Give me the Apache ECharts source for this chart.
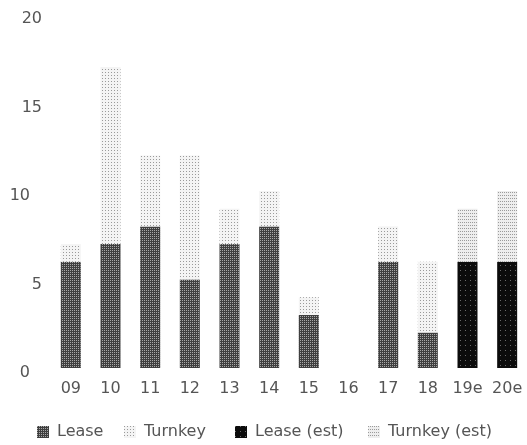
<!DOCTYPE html>
<html>
<head>
<meta charset="utf-8">
<script src="https://cdn.jsdelivr.net/npm/echarts@6/dist/echarts.min.js"></script>
<style>
  html, body { margin: 0; padding: 0; background: #fff; }
  #chart { width: 527px; height: 445px; }
</style>
</head>
<body>
<div id="chart"></div>
<script>
// Deliveries by year, split by contract type
const categories = ['09', '10', '11', '12', '13', '14', '15', '16', '17', '18', '19e', '20e'];
const lease      = [6, 7, 8, 5, 7, 8, 3, null, 6, 2, null, null];
const turnkey    = [1, 10, 4, 7, 2, 2, 1, null, 2, 4, null, null];
const leaseEst   = [null, null, null, null, null, null, null, null, null, null, 6, 6];
const turnkeyEst = [null, null, null, null, null, null, null, null, null, null, 3, 4];
const yTicks = [0, 5, 10, 15, 20];
const seriesNames = ['Lease', 'Turnkey', 'Lease (est)', 'Turnkey (est)'];

const FONT = '"DejaVu Sans", sans-serif';
const TEXT = '#555';

// halftone-like fills: base colour plus a fine dot decal
const fills = [
  { color: '#3f3f3f', decal: { symbol: 'rect', symbolSize: 1, color: '#a8a8a8', dashArrayX: [1, 1], dashArrayY: [1, 1], rotation: 0 } },
  { color: '#f4f4f4', decal: { symbol: 'rect', symbolSize: 1, color: '#9a9a9a', dashArrayX: [1, 2], dashArrayY: [1, 2], rotation: 0 } },
  { color: '#0c0c0c', decal: { symbol: 'rect', symbolSize: 1, color: '#6a6a6a', dashArrayX: [1, 4], dashArrayY: [1, 4], rotation: 0 } },
  { color: '#eeeeee', decal: { symbol: 'rect', symbolSize: 1, color: '#9a9a9a', dashArrayX: [1, 1], dashArrayY: [1, 2], rotation: 0 } }
];

const chart = echarts.init(document.getElementById('chart'), null, { renderer: 'canvas' });

function barSeries(name, data, fill) {
  return {
    name: name,
    type: 'bar',
    stack: 'total',
    data: data,
    barWidth: 20,
    itemStyle: { color: fill.color, decal: fill.decal },
    emphasis: { disabled: true }
  };
}

// one legend block per series so each entry sits at its own offset
const legendLefts = [37, 124, 235, 368];
const legends = seriesNames.map(function (name, i) {
  return {
    data: [name],
    left: legendLefts[i],
    top: 424,
    padding: 0,
    itemWidth: 12,
    itemHeight: 12,
    icon: 'rect',
    selectedMode: false,
    textStyle: { color: TEXT, fontSize: 16, fontFamily: FONT, padding: [0, 0, 0, 3] }
  };
});

chart.setOption({
  animation: false,
  backgroundColor: '#fff',
  textStyle: { fontFamily: FONT },
  grid: { left: 51, top: 14, width: 480, height: 354, containLabel: false },
  legend: legends,
  xAxis: {
    type: 'category',
    data: categories,
    axisLine: { show: false },
    axisTick: { show: false },
    axisLabel: { color: TEXT, fontSize: 16, fontFamily: FONT, margin: 13 }
  },
  yAxis: {
    type: 'value',
    min: yTicks[0],
    max: yTicks[yTicks.length - 1],
    interval: 5,
    splitLine: { show: false },
    axisLine: { show: false },
    axisTick: { show: false },
    axisLabel: {
      color: TEXT,
      fontSize: 16,
      fontFamily: FONT,
      margin: 9,
      padding: [10, 0, 0, 0],
      formatter: function (v) {
        return (v === 10 || v === 0) ? '{s|' + v + '}' : String(v);
      },
      rich: {
        s: { color: TEXT, fontSize: 16, fontFamily: FONT, padding: [0, 12, 0, 0] }
      }
    }
  },
  series: seriesNames.map(function (name, i) {
    return barSeries(name, [lease, turnkey, leaseEst, turnkeyEst][i], fills[i]);
  })
});
</script>
</body>
</html>
